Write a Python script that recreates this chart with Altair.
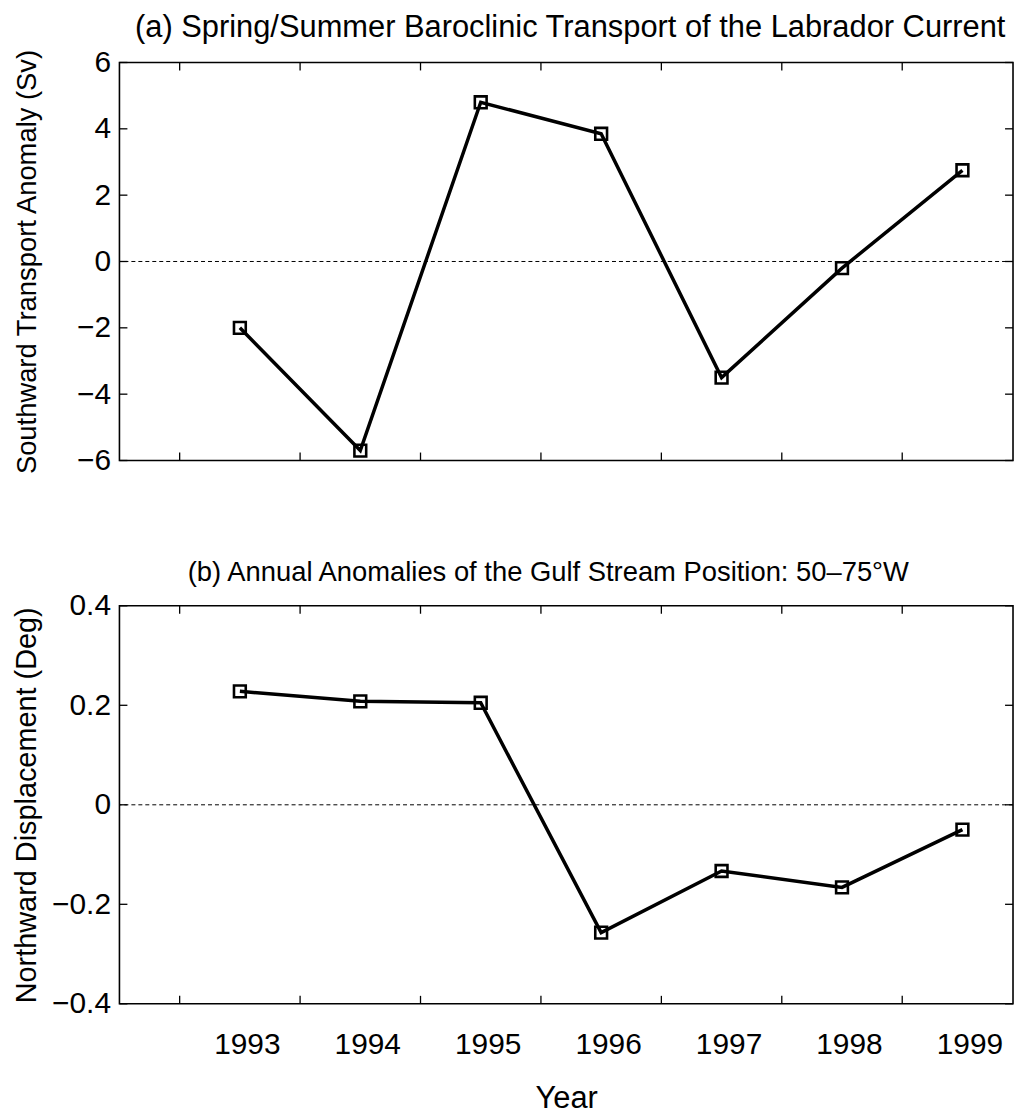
import altair as alt
import pandas as pd

# ---- data ----
years = [1993, 1994, 1995, 1996, 1997, 1998, 1999]
transport = [-2.0, -5.7, 4.8, 3.85, -3.5, -0.2, 2.75]
gulf = [0.228, 0.208, 0.205, -0.257, -0.133, -0.166, -0.05]
x_ticks = [1992.5, 1993.5, 1994.5, 1995.5, 1996.5, 1997.5, 1998.5]
y_ticks_a = [-6, -4, -2, 0, 2, 4, 6]
y_ticks_b = [-0.4, -0.2, 0, 0.2, 0.4]

title_a = "(a) Spring/Summer Baroclinic Transport of the Labrador Current"
title_b = "(b) Annual Anomalies of the Gulf Stream Position: 50\u201375\u00b0W"
ytitle_a = "Southward Transport Anomaly (Sv)"
ytitle_b = "Northward Displacement (Deg)"

W = 898
H = 400
FONT = "Liberation Sans"
X_DOMAIN = [1992.0, 1999.42]


def panel(values, ydomain, yticks, ytitle, ytitle_size, ytitle_x, title,
          title_size, title_dx, bottom, label_expr):
    df = pd.DataFrame({"year": years, "v": values})
    xscale = alt.Scale(domain=X_DOMAIN, nice=False, zero=False)
    yscale = alt.Scale(domain=ydomain, nice=False, zero=False)

    if bottom:
        xaxis = alt.Axis(values=years, format="d", ticks=False, domain=False,
                         grid=False, labelFontSize=30, labelPadding=26,
                         labelOffset=7, title="Year", titleFontSize=31,
                         titleFontWeight="normal", titlePadding=24)
    else:
        xaxis = alt.Axis(values=years, ticks=False, domain=False, grid=False,
                         labels=False, title="")

    yaxis = alt.Axis(values=yticks, ticks=False, domain=False, grid=False,
                     labelFontSize=30, labelPadding=9, labelExpr=label_expr,
                     title=ytitle, titleFontSize=ytitle_size,
                     titleFontWeight="normal", titleX=ytitle_x, titleY=H / 2)

    base = alt.Chart(df)
    line = base.mark_line(color="black", strokeWidth=3.5).encode(
        x=alt.X("year:Q", scale=xscale, axis=xaxis),
        y=alt.Y("v:Q", scale=yscale, axis=yaxis),
    )
    pts = base.mark_point(shape="square", filled=False, size=140,
                          strokeWidth=2.6, color="black", opacity=1).encode(
        x="year:Q", y="v:Q")

    zero = alt.Chart(pd.DataFrame({"v": [0]})).mark_rule(
        color="black", strokeWidth=1, strokeDash=[4, 3]).encode(y="v:Q")

    xt = pd.DataFrame({"year": x_ticks})
    xt_bot = alt.Chart(xt).mark_rule(color="black", strokeWidth=1.3).encode(
        x="year:Q", y=alt.value(H), y2=alt.value(H - 8))
    xt_top = alt.Chart(xt).mark_rule(color="black", strokeWidth=1.3).encode(
        x="year:Q", y=alt.value(0), y2=alt.value(8))

    yt = pd.DataFrame({"v": yticks})
    yt_left = alt.Chart(yt).mark_rule(color="black", strokeWidth=1.3).encode(
        y="v:Q", x=alt.value(0), x2=alt.value(8))
    yt_right = alt.Chart(yt).mark_rule(color="black", strokeWidth=1.3).encode(
        y="v:Q", x=alt.value(W), x2=alt.value(W - 8))

    return alt.layer(line, pts, zero, xt_bot, xt_top, yt_left, yt_right).properties(
        width=W, height=H,
        title=alt.TitleParams(title, fontSize=title_size, fontWeight="normal",
                              font=FONT, color="black", offset=4,
                              anchor="middle", dx=title_dx),
    )


top = panel(transport, [-6, 6], y_ticks_a, ytitle_a, 27.5, -78, title_a, 31,
            4, False, "format(datum.value, 'd')")
bot = panel(gulf, [-0.4, 0.4], y_ticks_b, ytitle_b, 29, -78, title_b, 27.5,
            -18, True, "datum.value == 0 ? '0' : format(datum.value, '.1f')")

chart = alt.vconcat(top, bot, spacing=82).properties(
    padding={"left": 4, "top": 0, "right": 0, "bottom": 0},
    background="white",
).configure_view(
    stroke="black", strokeWidth=1.6
).configure_axis(
    labelFont=FONT, titleFont=FONT, labelColor="black", titleColor="black"
)

chart.save("out.html", embed_options={"renderer": "svg", "actions": False})
